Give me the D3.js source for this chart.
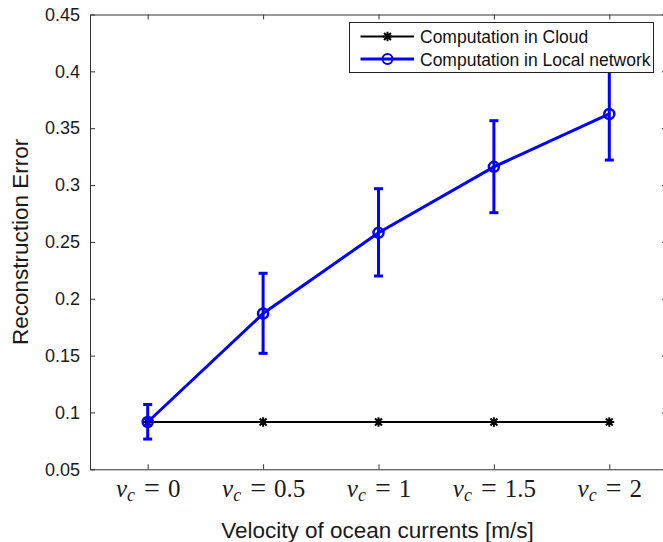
<!DOCTYPE html>
<html>
<head>
<meta charset="utf-8">
<script src="https://cdn.jsdelivr.net/npm/d3@7"></script>
<style>
  body { margin: 0; background: #fff; }
  svg { display: block; }
</style>
</head>
<body>
<div id="chart"></div>
<script>
// values
const velocities = ['0', '0.5', '1', '1.5', '2']
const cloudError = [0.0916, 0.0916, 0.0916, 0.0916, 0.0916]
const localError = [0.0916, 0.187, 0.258, 0.316, 0.3625]
const localErrLow = [0.0766, 0.152, 0.22, 0.2757, 0.322]
const localErrHigh = [0.107, 0.2224, 0.2968, 0.3566, 0.403]
const yTicks = [0.05, 0.1, 0.15, 0.2, 0.25, 0.3, 0.35, 0.4, 0.45]
const seriesLabels = ['Computation in Cloud', 'Computation in Local network']

const width = 663
const height = 542
const plot = { left: 90, right: 667, top: 14.5, bottom: 469.3 }
const axisColor = '#333'
const blue = '#0000ff'
const sansFont = '"Liberation Sans", Arial, sans-serif'
const serifFont = '"Liberation Serif", "Times New Roman", serif'

const svg = d3
  .select('#chart')
  .append('svg')
  .attr('width', width)
  .attr('height', height)

const xScale = d3
  .scalePoint()
  .domain(velocities)
  .range([plot.left, plot.right])
  .padding(0.5)

const yScale = d3
  .scaleLinear()
  .domain([0.05, 0.45])
  .range([plot.bottom, plot.top])

const styleAxis = g => {
  g.select('.domain').attr('stroke', axisColor).attr('stroke-width', 1)
  g.selectAll('.tick line').attr('stroke', axisColor)
}

// box axes, ticks pointing inward like matlab
svg
  .append('g')
  .attr('transform', `translate(${plot.left},0)`)
  .call(
    d3.axisLeft(yScale).tickValues(yTicks).tickSize(-5).tickSizeOuter(0).tickPadding(10).tickFormat(d => String(d)),
  )
  .call(styleAxis)
  .call(g =>
    g
      .selectAll('.tick text')
      .attr('fill', '#1a1a1a')
      .style('font-family', sansFont)
      .style('font-size', '18px'),
  )

svg
  .append('g')
  .attr('transform', `translate(${plot.right},0)`)
  .call(d3.axisRight(yScale).tickValues(yTicks).tickSize(-5).tickSizeOuter(0).tickFormat(''))
  .call(styleAxis)

svg
  .append('g')
  .attr('transform', `translate(0,${plot.top})`)
  .call(d3.axisTop(xScale).tickSize(-5).tickSizeOuter(0).tickFormat(''))
  .call(styleAxis)

svg
  .append('g')
  .attr('transform', `translate(0,${plot.bottom})`)
  .call(d3.axisBottom(xScale).tickSize(-5).tickSizeOuter(0))
  .call(styleAxis)
  .call(g => {
    g.selectAll('.tick text')
      .text(null)
      .attr('dy', null)
      .attr('y', 27.5)
      .attr('fill', '#1a1a1a')
      .style('font-family', serifFont)
      .style('font-size', '25px')
      .each(function (d) {
        const t = d3.select(this)
        t.append('tspan').style('font-style', 'italic').text('v')
        t.append('tspan')
          .style('font-style', 'italic')
          .style('font-size', '18px')
          .attr('dy', 4)
          .text('c')
        t.append('tspan')
          .style('font-size', '28px')
          .attr('dy', -4)
          .attr('dx', 9)
          .text('=')
        t.append('tspan').attr('dx', 8).text(d)
      })
  })

// 8-armed asterisk like the matlab '*' marker
const asteriskType = {
  draw(context, size) {
    const r = Math.sqrt(size) / 2
    const k = r * Math.SQRT1_2
    context.moveTo(-r, 0)
    context.lineTo(r, 0)
    context.moveTo(0, -r)
    context.lineTo(0, r)
    context.moveTo(-k, -k)
    context.lineTo(k, k)
    context.moveTo(-k, k)
    context.lineTo(k, -k)
  },
}
const asterisk = d3.symbol().type(asteriskType).size(95)

const points = velocities.map((v, i) => ({
  v,
  cloud: cloudError[i],
  local: localError[i],
  low: localErrLow[i],
  high: localErrHigh[i],
}))

// cloud series (black with asterisks)
svg
  .append('path')
  .datum(points)
  .attr('fill', 'none')
  .attr('stroke', '#000')
  .attr('stroke-width', 2)
  .attr('d', d3.line().x(d => xScale(d.v)).y(d => yScale(d.cloud)))

svg
  .append('g')
  .selectAll('path')
  .data(points)
  .join('path')
  .attr('transform', d => `translate(${xScale(d.v)},${yScale(d.cloud)})`)
  .attr('d', asterisk)
  .attr('fill', 'none')
  .attr('stroke', '#000')
  .attr('stroke-width', 2)

// local network series (blue, circles, error bars)
const errorBars = svg.append('g').attr('stroke', blue).attr('stroke-width', 3)
errorBars
  .selectAll('line.bar')
  .data(points)
  .join('line')
  .attr('class', 'bar')
  .attr('x1', d => xScale(d.v))
  .attr('x2', d => xScale(d.v))
  .attr('y1', d => yScale(d.low))
  .attr('y2', d => yScale(d.high))
errorBars
  .selectAll('line.cap-low')
  .data(points)
  .join('line')
  .attr('class', 'cap-low')
  .attr('x1', d => xScale(d.v) - 4.5)
  .attr('x2', d => xScale(d.v) + 4.5)
  .attr('y1', d => yScale(d.low))
  .attr('y2', d => yScale(d.low))
errorBars
  .selectAll('line.cap-high')
  .data(points)
  .join('line')
  .attr('class', 'cap-high')
  .attr('x1', d => xScale(d.v) - 4.5)
  .attr('x2', d => xScale(d.v) + 4.5)
  .attr('y1', d => yScale(d.high))
  .attr('y2', d => yScale(d.high))

svg
  .append('path')
  .datum(points)
  .attr('fill', 'none')
  .attr('stroke', blue)
  .attr('stroke-width', 3)
  .attr('d', d3.line().x(d => xScale(d.v)).y(d => yScale(d.local)))

svg
  .append('g')
  .selectAll('circle')
  .data(points)
  .join('circle')
  .attr('cx', d => xScale(d.v))
  .attr('cy', d => yScale(d.local))
  .attr('r', 5)
  .attr('fill', 'none')
  .attr('stroke', blue)
  .attr('stroke-width', 2.5)

// legend
const legend = svg.append('g').attr('transform', 'translate(349.5,22.5)')
legend
  .append('rect')
  .attr('width', 304)
  .attr('height', 50)
  .attr('fill', '#fff')
  .attr('stroke', '#222')
  .attr('stroke-width', 1)

const legendRows = legend
  .selectAll('g.row')
  .data(seriesLabels)
  .join('g')
  .attr('class', 'row')
  .attr('transform', (d, i) => `translate(0,${14 + i * 22.5})`)

legendRows
  .append('line')
  .attr('x1', 11)
  .attr('x2', 64.5)
  .attr('stroke', (d, i) => (i === 0 ? '#000' : blue))
  .attr('stroke-width', (d, i) => (i === 0 ? 2 : 3))

legendRows
  .filter((d, i) => i === 0)
  .append('path')
  .attr('transform', 'translate(38,0)')
  .attr('d', asterisk)
  .attr('fill', 'none')
  .attr('stroke', '#000')
  .attr('stroke-width', 2)

legendRows
  .filter((d, i) => i === 1)
  .append('circle')
  .attr('cx', 38)
  .attr('r', 5)
  .attr('fill', 'none')
  .attr('stroke', blue)
  .attr('stroke-width', 2)

legendRows
  .append('text')
  .attr('x', 70.5)
  .attr('y', 6.5)
  .attr('fill', '#111')
  .style('font-family', sansFont)
  .style('font-size', '17.5px')
  .text(d => d)

// axis titles
svg
  .append('text')
  .attr('x', (plot.left + plot.right) / 2 - 1)
  .attr('y', 538)
  .attr('text-anchor', 'middle')
  .attr('fill', '#1a1a1a')
  .style('font-family', sansFont)
  .style('font-size', '22.5px')
  .text('Velocity of ocean currents [m/s]')

svg
  .append('text')
  .attr('transform', `translate(28,${(plot.top + plot.bottom) / 2}) rotate(-90)`)
  .attr('text-anchor', 'middle')
  .attr('fill', '#1a1a1a')
  .style('font-family', sansFont)
  .style('font-size', '22.5px')
  .text('Reconstruction Error')
</script>
</body>
</html>
